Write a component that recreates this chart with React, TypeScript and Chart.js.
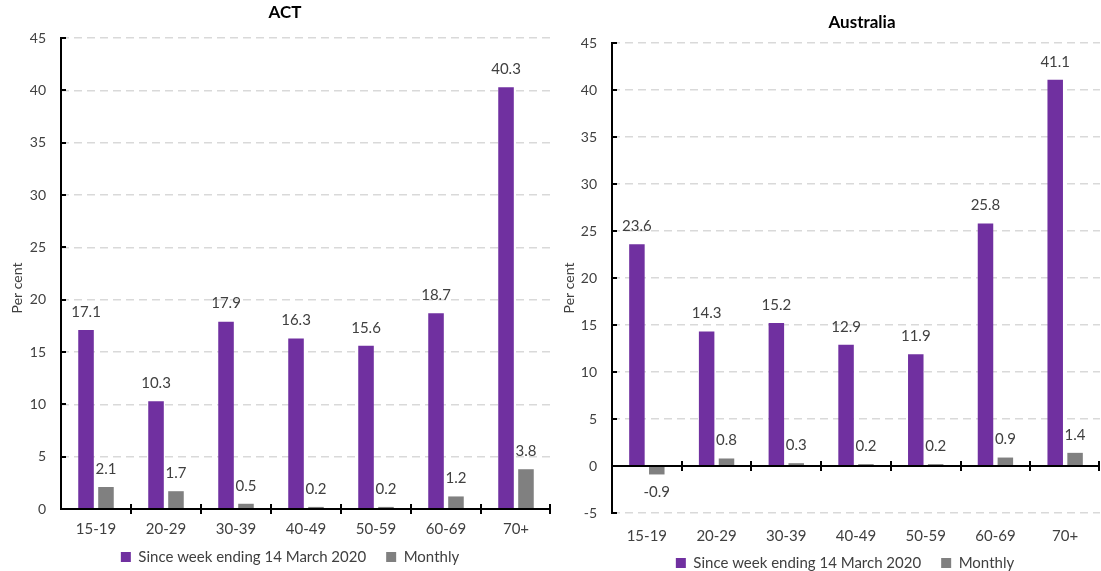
import React, { useEffect, useRef } from 'react';
import { Chart, registerables } from 'chart.js';

Chart.register(...registerables);

const categories = ['15-19', '20-29', '30-39', '40-49', '50-59', '60-69', '70+'];
const seriesNames = ['Since week ending 14 March 2020', 'Monthly'];
const actSince = [17.1, 10.3, 17.9, 16.3, 15.6, 18.7, 40.3];
const actMonthly = [2.1, 1.7, 0.5, 0.2, 0.2, 1.2, 3.8];
const ausSince = [23.6, 14.3, 15.2, 12.9, 11.9, 25.8, 41.1];
const ausMonthly = [-0.9, 0.8, 0.3, 0.2, 0.2, 0.9, 1.4];
const actAxis = { min: 0, max: 45, step: 5 };
const ausAxis = { min: -5, max: 45, step: 5 };

const PURPLE = '#7030A0';
const GREY = '#808080';
const TEXT = '#404040';
const FONT = 'Lato, "Open Sans", sans-serif';
const CANVAS_H = 600;

const decor = {
  id: 'decor',
  afterLayout(chart: any, _args: any, opts: any) {
    const lg = chart.legend;
    if (!lg) return;
    const pad = lg.options.labels.padding;
    const itemH = Math.max(lg.options.labels.font.size || 15, lg.options.labels.boxHeight || 0);
    const curY = lg.top + pad + itemH / 2;
    const dy = opts.legendY - curY;
    const curX = (lg.left + lg.right) / 2;
    const dx = opts.legendX - curX;
    lg.top += dy;
    lg.bottom += dy;
    lg.left += dx;
    lg.right += dx;
  },
  afterDatasetsDraw(chart: any, _args: any, opts: any) {
    const ctx = chart.ctx;
    const { left, right, top, bottom } = chart.chartArea;
    const ys = chart.scales.y;
    const xs = chart.scales.x;
    ctx.save();
    ctx.strokeStyle = '#000';
    ctx.lineWidth = 2;
    // y axis line
    ctx.beginPath();
    ctx.moveTo(left, top - 1);
    ctx.lineTo(left, bottom + 1);
    ctx.stroke();
    // y tick stubs (inside)
    ys.ticks.forEach((t: any) => {
      const py = Math.round(ys.getPixelForValue(t.value));
      ctx.beginPath();
      ctx.moveTo(left, py);
      ctx.lineTo(left + 5, py);
      ctx.stroke();
    });
    // x axis at zero
    const y0 = Math.round(ys.getPixelForValue(0));
    ctx.beginPath();
    ctx.moveTo(left, y0);
    ctx.lineTo(right, y0);
    ctx.stroke();
    const n = xs.ticks.length;
    const w = (right - left) / n;
    for (let i = 1; i <= n; i++) {
      const px = Math.round(left + i * w) - (i === n ? 1 : 0);
      ctx.beginPath();
      ctx.moveTo(px, y0 - 5);
      ctx.lineTo(px, y0 + 5);
      ctx.stroke();
    }
    // data labels
    ctx.fillStyle = TEXT;
    ctx.font = `15px ${FONT}`;
    ctx.textAlign = 'center';
    ctx.textBaseline = 'middle';
    chart.data.datasets.forEach((ds: any, di: number) => {
      const meta = chart.getDatasetMeta(di);
      meta.data.forEach((el: any, j: number) => {
        const v = ds.data[j];
        const p = el.getProps(['x', 'y'], true);
        const ty = v >= 0 ? p.y - opts.labelOffset : p.y + opts.labelOffset;
        ctx.fillText(v.toFixed(1), p.x, ty);
      });
    });
    ctx.restore();
  },
  afterDraw(chart: any, _args: any, opts: any) {
    const ctx = chart.ctx;
    ctx.save();
    ctx.fillStyle = '#000';
    ctx.font = `bold 17px ${FONT}`;
    ctx.textAlign = 'center';
    ctx.textBaseline = 'middle';
    ctx.fillText(opts.title, opts.titleX, opts.titleY);
    ctx.fillStyle = TEXT;
    ctx.font = `14px ${FONT}`;
    ctx.translate(opts.yTitleX, opts.yTitleY);
    ctx.rotate(-Math.PI / 2);
    ctx.fillText(opts.yTitle, 0, 0);
    ctx.restore();
  },
};

type PanelProps = {
  title: string;
  since: number[];
  monthly: number[];
  axis: { min: number; max: number; step: number };
  left: number;
  width: number;
  pad: { left: number; right: number; top: number; bottom: number };
  yWidth: number;
  xHeight: number;
  xPad: number;
  titleX: number;
  titleY: number;
  yTitleX: number;
  yTitleY: number;
  legendX: number;
  legendY: number;
};

function Panel(p: PanelProps) {
  const ref = useRef<HTMLCanvasElement>(null);
  useEffect(() => {
    if (!ref.current) return;
    const chart = new Chart(ref.current, {
      type: 'bar',
      data: {
        labels: categories,
        datasets: [
          {
            label: seriesNames[0],
            data: p.since,
            backgroundColor: PURPLE,
            categoryPercentage: 0.57,
            barPercentage: 0.78,
          },
          {
            label: seriesNames[1],
            data: p.monthly,
            backgroundColor: GREY,
            categoryPercentage: 0.57,
            barPercentage: 0.78,
          },
        ],
      },
      options: {
        responsive: false,
        animation: false,
        layout: { padding: p.pad },
        plugins: {
          legend: {
            position: 'bottom',
            labels: {
              boxWidth: 10,
              boxHeight: 10,
              padding: 20,
              color: TEXT,
              font: { size: 15, family: FONT },
            },
          },
          tooltip: { enabled: false },
          decor: {
            title: p.title,
            titleX: p.titleX,
            titleY: p.titleY,
            yTitle: 'Per cent',
            yTitleX: p.yTitleX,
            yTitleY: p.yTitleY,
            labelOffset: 18,
            legendX: p.legendX,
            legendY: p.legendY,
          },
        },
        scales: {
          x: {
            grid: { display: false, drawTicks: false },
            border: { display: false },
            ticks: { color: TEXT, font: { size: 15, family: FONT }, padding: p.xPad },
            afterFit: (s: any) => {
              s.height = p.xHeight;
            },
          },
          y: {
            min: p.axis.min,
            max: p.axis.max,
            grid: {
              drawTicks: false,
              lineWidth: 1.5,
              color: (c: any) => (c.tick && c.tick.value === 0 ? 'rgba(0,0,0,0)' : '#D9D9D9'),
            },
            border: { display: false, dash: [8, 5] },
            ticks: {
              stepSize: p.axis.step,
              color: TEXT,
              font: { size: 14, family: FONT },
              padding: 15,
            },
            afterFit: (s: any) => {
              s.width = p.yWidth;
            },
          },
        },
      } as any,
      plugins: [decor as any],
    });
    return () => chart.destroy();
  }, []);
  return (
    <canvas
      ref={ref}
      width={p.width}
      height={CANVAS_H}
      style={{ position: 'absolute', left: p.left, top: 0, width: p.width, height: CANVAS_H }}
    />
  );
}

export default function App() {
  return (
    <div
      style={{
        position: 'fixed',
        left: 0,
        top: 0,
        width: 1101,
        height: 571,
        overflow: 'hidden',
        background: '#fff',
      }}
    >
      <Panel
        title="ACT"
        since={actSince}
        monthly={actMonthly}
        axis={actAxis}
        left={0}
        width={560}
        pad={{ left: 25, right: 9, top: 38, bottom: CANVAS_H - 509 - 34 - 45 }}
        yWidth={36}
        xHeight={34}
        xPad={11}
        titleX={285}
        titleY={13}
        yTitleX={17}
        yTitleY={288}
        legendX={290}
        legendY={557}
      />
      <Panel
        title="Australia"
        since={ausSince}
        monthly={ausMonthly}
        axis={ausAxis}
        left={550}
        width={551}
        pad={{ left: 26, right: 1, top: 43, bottom: CANVAS_H - 513 - 34 - 45 }}
        yWidth={36}
        xHeight={34}
        xPad={14}
        titleX={312}
        titleY={23}
        yTitleX={19}
        yTitleY={288}
        legendX={295}
        legendY={563}
      />
    </div>
  );
}
